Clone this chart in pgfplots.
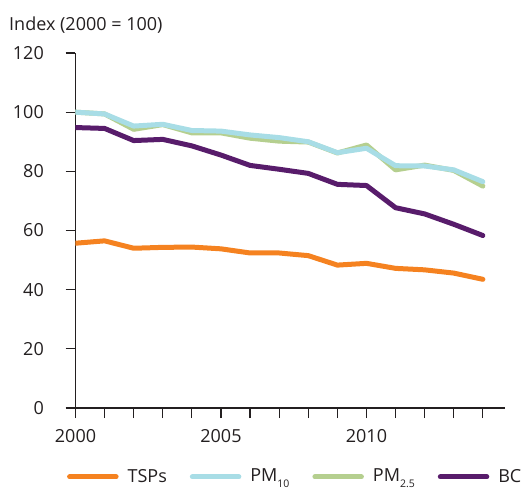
\documentclass[border=0pt]{standalone}
\usepackage{fontspec}
\setmainfont{Open Sans}
\usepackage{pgfplots}
\pgfplotsset{compat=1.18}
\definecolor{tsp}{HTML}{F58220}
\definecolor{pmten}{HTML}{A8DDE6}
\definecolor{pmtwo}{HTML}{B5CF8F}
\definecolor{bc}{HTML}{581C6B}
\definecolor{axc}{HTML}{231F20}
\newcommand{\sub}[1]{\raisebox{-6bp}[0pt][0pt]{\fontsize{10.5bp}{11bp}\selectfont #1}}
\begin{document}
\fontsize{18bp}{21bp}\selectfont
\begin{tikzpicture}
\path[use as bounding box] (-75.5bp,-81bp) rectangle (450.5bp,408bp);
\begin{axis}[
  at={(0,0)}, anchor=south west,
  scale only axis,
  width=429.5bp, height=355bp,
  xmin=2000, xmax=2014.76,
  ymin=0, ymax=120,
  axis x line*=bottom, axis y line*=left,
  axis line style={axc, line width=1.2bp},
  every tick/.style={axc, line width=1.2bp},
  tick align=outside,
  major tick length=10bp,
  xtick={2000,...,2014},
  xticklabels={2000,,,,,2005,,,,,2010,,,,},
  ytick={0,20,...,120},
  /pgf/number format/assume math mode=true,
  tick label style={font=\fontsize{18bp}{21bp}\selectfont, text=axc},
  yticklabel style={xshift=-15.5bp},
  xticklabel style={yshift=-5bp},
  ylabel={Index (2000 = 100)},
  ylabel style={rotate=-90, anchor=base west, at={(axis description cs:-0.1688,1.0628)}, font=\fontsize{18bp}{21bp}\selectfont, text=axc},
  every axis plot/.append style={line width=5bp, line cap=round, line join=round},
  legend columns=4,
  legend style={draw=none, fill=none, inner sep=0pt, at={(axis description cs:-0.02,-0.194)}, anchor=west,
     font=\fontsize{18bp}{21bp}\selectfont, text=axc,
     /tikz/every odd column/.append style={column sep=7bp},
     /tikz/every even column/.append style={column sep=21bp}},
  legend image code/.code={\draw[#1] (2.5bp,0bp) -- (49bp,0bp);},
]
\addplot[tsp] coordinates {(2000,55.7)(2001,56.5)(2002,54.0)(2003,54.3)(2004,54.4)(2005,53.8)(2006,52.4)(2007,52.4)(2008,51.5)(2009,48.3)(2010,48.9)(2011,47.2)(2012,46.7)(2013,45.6)(2014,43.5)};
\addlegendentry{TSPs}
\addplot[pmtwo, forget plot] coordinates {(2000,100)(2001,99.4)(2002,94.2)(2003,95.8)(2004,93.0)(2005,93.0)(2006,91.2)(2007,90.2)(2008,89.9)(2009,86.2)(2010,88.9)(2011,80.5)(2012,82.1)(2013,80.3)(2014,75.0)};
\addplot[pmten] coordinates {(2000,100)(2001,99.4)(2002,95.3)(2003,95.9)(2004,93.8)(2005,93.6)(2006,92.3)(2007,91.4)(2008,90.0)(2009,86.3)(2010,87.8)(2011,81.9)(2012,81.8)(2013,80.5)(2014,76.5)};
\addlegendentry{PM\sub{10}}
\addlegendimage{pmtwo, line width=5bp, line cap=round}
\addlegendentry{PM\sub{2.5}}
\addplot[bc] coordinates {(2000,94.8)(2001,94.5)(2002,90.4)(2003,90.8)(2004,88.6)(2005,85.5)(2006,82.0)(2007,80.7)(2008,79.3)(2009,75.6)(2010,75.2)(2011,67.7)(2012,65.6)(2013,62.1)(2014,58.3)};
\addlegendentry{BC}
\end{axis}
\end{tikzpicture}
\end{document}
